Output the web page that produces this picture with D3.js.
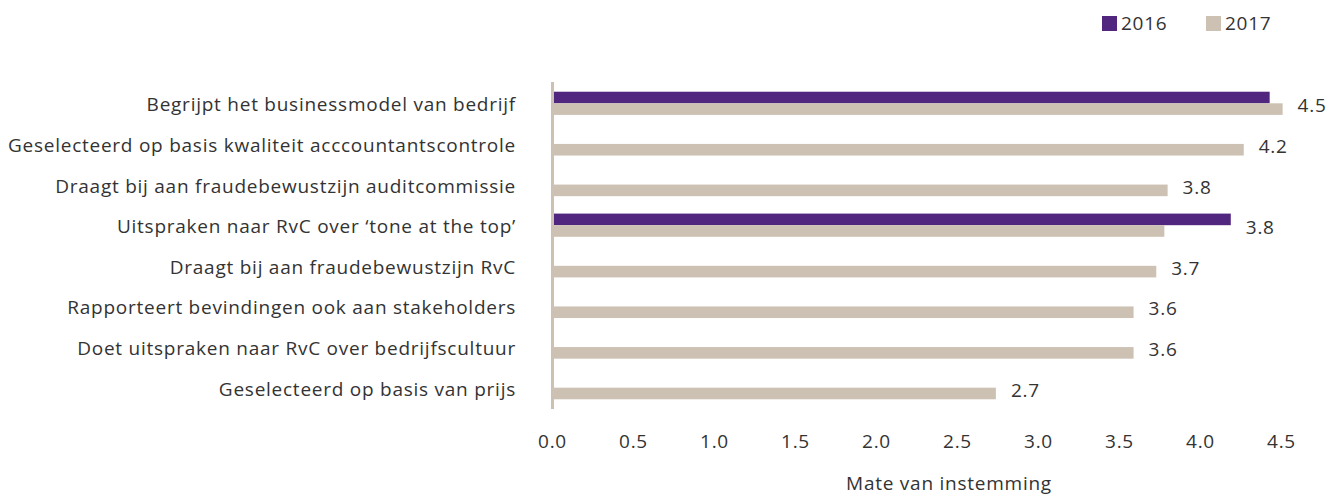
<!DOCTYPE html>
<html><head><meta charset="utf-8">
<script src="https://cdn.jsdelivr.net/npm/d3@7"></script>
<style>body{margin:0;background:#fff}svg{display:block}text{font-family:"Open Sans",sans-serif;fill:#333;letter-spacing:0.75px}</style>
</head><body><svg id="c" width="1341" height="496"></svg>
<script>
const categories = [
  "Begrijpt het businessmodel van bedrijf",
  "Geselecteerd op basis kwaliteit acccountantscontrole",
  "Draagt bij aan fraudebewustzijn auditcommissie",
  "Uitspraken naar RvC over \u2018tone at the top\u2019",
  "Draagt bij aan fraudebewustzijn RvC",
  "Rapporteert bevindingen ook aan stakeholders",
  "Doet uitspraken naar RvC over bedrijfscultuur",
  "Geselecteerd op basis van prijs"
];
const series = ["2016", "2017"];
const values2016 = [4.43, null, null, 4.19, null, null, null, null];
const values2017 = [4.51, 4.27, 3.80, 3.78, 3.73, 3.59, 3.59, 2.74];
const valueLabels = ["4.5", "4.2", "3.8", "3.8", "3.7", "3.6", "3.6", "2.7"];
const xTicks = [0, 0.5, 1, 1.5, 2, 2.5, 3, 3.5, 4, 4.5];
const axisTitle = "Mate van instemming";
const colors = {"2016": "#51267f", "2017": "#cdc1b3"};

const svg = d3.select("#c");
const x = d3.scaleLinear().domain([0, 4.5]).range([552, 1281]);
const y = d3.scaleBand().domain(categories).range([83, 408]).padding(0);
const barH = 11.6;
const y1 = d3.scaleBand().domain(series).range([-barH, barH]);
const fs = 19;

const rows = categories.map((c, i) => ({c, i, v: {"2016": values2016[i], "2017": values2017[i]}}));
const cy = d => y(d.c) + y.bandwidth() / 2;

// bars
series.forEach(s => {
  svg.append("g").selectAll("rect").data(rows.filter(r => r.v[s] != null)).join("rect")
    .attr("x", x(0))
    .attr("y", d => cy(d) + y1(s))
    .attr("width", d => x(d.v[s]) - x(0))
    .attr("height", y1.bandwidth())
    .attr("fill", colors[s]);
});

// axis line
svg.append("line").attr("x1", x(0) + 0.5).attr("x2", x(0) + 0.5)
  .attr("y1", 82).attr("y2", 409).attr("stroke", "#cdc1b3").attr("stroke-width", 3);

// category labels
svg.append("g").selectAll("text").data(rows).join("text")
  .attr("x", 516).attr("y", d => cy(d) + 1)
  .attr("text-anchor", "end").attr("dominant-baseline", "central")
  .style("font-size", fs + "px").text(d => d.c);

// value labels
svg.append("g").selectAll("text").data(rows).join("text")
  .attr("x", d => x(Math.max(d.v["2016"] || 0, d.v["2017"])) + 15)
  .attr("y", d => cy(d) + 2)
  .attr("dominant-baseline", "central")
  .style("font-size", fs + "px").text(d => valueLabels[d.i]);

// x axis
const xa = svg.append("g").attr("transform", "translate(0,434)")
  .call(d3.axisBottom(x).tickValues(xTicks).tickFormat(d3.format(".1f")).tickSize(0).tickPadding(0));
xa.select(".domain").remove();
xa.selectAll("text").style("font-size", fs + "px").style("font-family", '"Open Sans",sans-serif').attr("fill", "#333").attr("dy", "0.71em");

svg.append("text").attr("x", 949).attr("y", 483).attr("text-anchor", "middle")
  .attr("dominant-baseline", "central").style("font-size", fs + "px").text(axisTitle);

// legend
const leg = svg.append("g");
const legX = {"2016": 1102, "2017": 1206};
series.forEach(s => {
  leg.append("rect").attr("x", legX[s]).attr("y", 16).attr("width", 15).attr("height", 15).attr("fill", colors[s]);
  leg.append("text").attr("x", legX[s] + 19).attr("y", 22.5).attr("dominant-baseline", "central")
    .style("font-size", fs + "px").text(s);
});
</script></body></html>
